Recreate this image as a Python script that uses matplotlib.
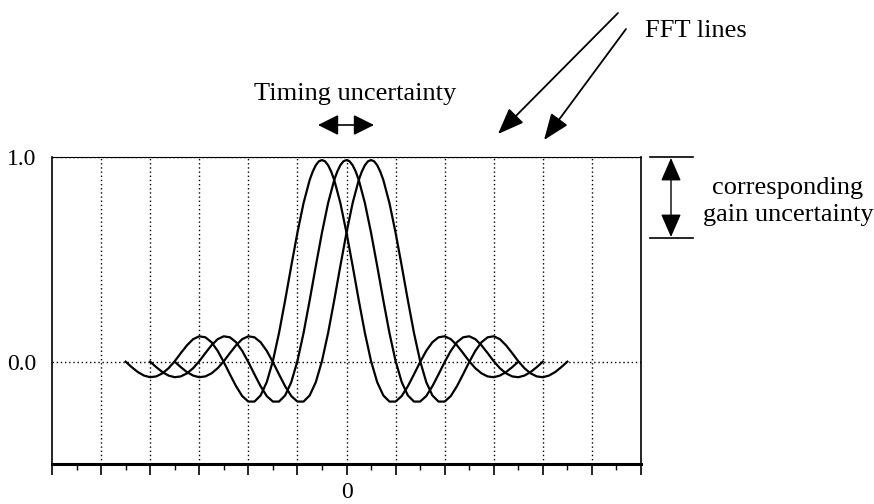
import matplotlib
matplotlib.use("Agg")
import matplotlib.pyplot as plt
import numpy as np
from matplotlib.ticker import FixedLocator, FixedFormatter

plt.rcParams['font.family'] = ['Liberation Serif', 'DejaVu Serif']

# ---- data ----
# pulse shape (relative offset from its peak) and its values
x_rel = [-4.0, -3.875, -3.75, -3.625, -3.5, -3.375, -3.25, -3.125,
         -3.0, -2.875, -2.75, -2.625, -2.5, -2.375, -2.25, -2.125,
         -2.0, -1.875, -1.75, -1.625, -1.5, -1.375, -1.25, -1.125,
         -1.0, -0.875, -0.75, -0.625, -0.5, -0.375, -0.25, -0.1875, -0.125, -0.0625,
         0.0,
         0.0625, 0.125, 0.1875, 0.25, 0.375, 0.5, 0.625, 0.75, 0.875, 1.0,
         1.125, 1.25, 1.375, 1.5, 1.625, 1.75, 1.875, 2.0,
         2.125, 2.25, 2.375, 2.5, 2.625, 2.75, 2.875, 3.0,
         3.125, 3.25, 3.375, 3.5, 3.625, 3.75, 3.875, 4.0]
pulse = [0.0, -0.027, -0.051, -0.068, -0.076, -0.072, -0.057, -0.032,
         0.002, 0.042, 0.080, 0.110, 0.124, 0.119, 0.095, 0.053,
         -0.002, -0.062, -0.120, -0.168, -0.195, -0.195, -0.165, -0.100,
         0.003, 0.140, 0.300, 0.468, 0.630, 0.775, 0.888, 0.929, 0.960, 0.979,
         0.985,
         0.979, 0.960, 0.929, 0.888, 0.775, 0.630, 0.468, 0.300, 0.140, 0.003,
         -0.100, -0.165, -0.195, -0.195, -0.168, -0.120, -0.062, -0.002,
         0.053, 0.095, 0.119, 0.124, 0.110, 0.080, 0.042, 0.002,
         -0.032, -0.057, -0.072, -0.076, -0.068, -0.051, -0.027, 0.0]
# timing offsets of the three pulses
shifts = [-0.5, 0.0, 0.5]

x_ticks = [-6, -5, -4, -3, -2, -1, 0, 1, 2, 3, 4, 5, 6]
x_tick_labels = ['', '', '', '', '', '', '0', '', '', '', '', '', '']
x_minor = [-5.5, -4.5, -3.5, -2.5, -1.5, -0.5, 0.5, 1.5, 2.5, 3.5, 4.5, 5.5]
y_ticks = [0.0, 1.0]
y_tick_labels = ['0.0', '1.0']

# ---- figure ----
W, H = 874, 504
fig = plt.figure(figsize=(W / 100, H / 100), dpi=100)
fig.patch.set_facecolor('white')

def fx(px):
    return px / W

def fy(py):
    return 1 - py / H

L, R, T, B = 52, 641, 157, 464
ax = fig.add_axes([fx(L), fy(B), (R - L) / W, (B - T) / H])
ax.set_xlim(-6, 6)
ax.set_ylim(-0.5, 1.0)

xr = np.array(x_rel)
for s in shifts:
    ax.plot(xr + s, pulse, color='black', lw=1.6, zorder=3,
            solid_joinstyle='round')

# grid
for gx in x_ticks[1:-1]:
    ax.axvline(gx, color='black', lw=1.0, ls=(0, (1, 2)), zorder=1)
for gy in y_ticks:
    ax.axhline(gy, color='black', lw=1.0, ls=(0, (1, 2)), zorder=1)

ax.xaxis.set_major_locator(FixedLocator(x_ticks))
ax.xaxis.set_major_formatter(FixedFormatter(x_tick_labels))
ax.xaxis.set_minor_locator(FixedLocator(x_minor))
ax.yaxis.set_major_locator(FixedLocator(y_ticks))
ax.yaxis.set_major_formatter(FixedFormatter(y_tick_labels))

ax.tick_params(axis='x', which='major', direction='out', length=8, width=1.2,
               labelsize=17, pad=5)
ax.tick_params(axis='x', which='minor', direction='out', length=4, width=1.0)
ax.tick_params(axis='y', which='major', length=0, labelsize=17, pad=11)

ax.spines['bottom'].set_linewidth(2.2)
ax.spines['left'].set_linewidth(1.2)
ax.spines['right'].set_linewidth(1.2)
ax.spines['top'].set_linewidth(0.8)

# ---- annotations ----
fs = 19
fig.text(fx(355), fy(94), 'Timing uncertainty', ha='center', va='center', fontsize=fs)
fig.text(fx(645), fy(31), 'FFT lines', ha='left', va='center', fontsize=fs)
fig.text(fx(788), fy(188), 'corresponding', ha='center', va='center', fontsize=fs)
fig.text(fx(788), fy(215), 'gain uncertainty', ha='center', va='center', fontsize=fs)

def farrow(x0, y0, x1, y1, style, lw=1.2, ms=18):
    fig.add_artist(matplotlib.patches.FancyArrowPatch(
        (fx(x0), fy(y0)), (fx(x1), fy(y1)), transform=fig.transFigure,
        arrowstyle=style, mutation_scale=ms, color='black', lw=lw,
        shrinkA=0, shrinkB=0))

# timing double arrow
farrow(318, 125, 374, 125, '<|-|>,head_length=0.7,head_width=0.35', lw=1.2, ms=18)
# FFT line arrows
farrow(618, 13, 498, 134, '-|>,head_length=0.9,head_width=0.35', lw=1.3, ms=18)
farrow(626, 29, 544, 140, '-|>,head_length=0.9,head_width=0.35', lw=1.3, ms=18)
# gain uncertainty bars and arrow
fig.add_artist(plt.Line2D([fx(650), fx(693)], [fy(157), fy(157)], color='black', lw=1.2,
                          transform=fig.transFigure))
fig.add_artist(plt.Line2D([fx(650), fx(693)], [fy(238), fy(238)], color='black', lw=1.2,
                          transform=fig.transFigure))
farrow(671, 158, 671, 237, '<|-|>,head_length=0.8,head_width=0.35', lw=1.0, ms=18)

fig.savefig('out.png', dpi=100, facecolor='white')
